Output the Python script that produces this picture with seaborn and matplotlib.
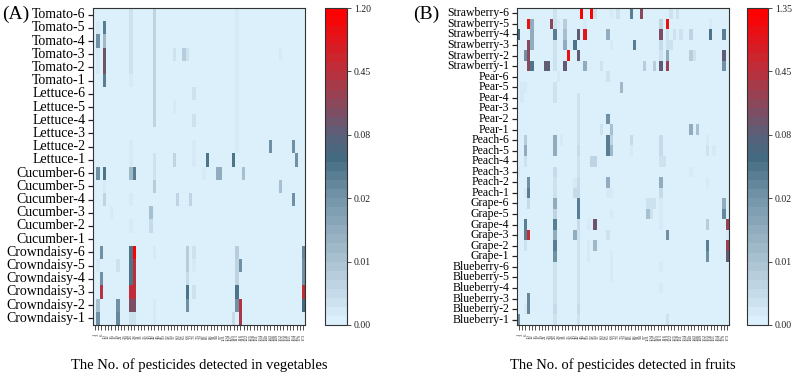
import numpy as np
import pandas as pd
import matplotlib
matplotlib.use("Agg")
import matplotlib.pyplot as plt
from matplotlib.colors import LinearSegmentedColormap
import seaborn as sns

# ─────────────────────────────────────────────
# DATOS
# ─────────────────────────────────────────────
# pesticide numbers on the x axis (64 columns)
PESTICIDAS = [1, 3, 6, 10, 12, 15, 17, 19, 21, 23, 24, 26, 28, 31, 33, 35,
              38, 40, 42, 45, 47, 50, 52, 55, 57, 60, 62, 65, 68, 70, 73, 76,
              79, 82, 85, 88, 91, 94, 97, 101, 104, 107, 110, 113, 116, 119,
              122, 125, 128, 131, 134, 137, 140, 143, 146, 149, 152, 155, 158,
              161, 164, 167, 170, 173]

# ticks of the colour scale (mg/kg)
NIVELES_VEG = [0.00, 0.01, 0.02, 0.08, 0.45, 1.20]
NIVELES_FRU = [0.00, 0.01, 0.02, 0.08, 0.45, 1.35]

# residues per sample: {column: value}
tomato = {
    "Tomato-6": {11: 0.003, 18: 0.006, 43: 0.002},
    "Tomato-5": {1: 0.002, 3: 0.04, 11: 0.003, 18: 0.006, 43: 0.002},
    "Tomato-4": {1: 0.02, 3: 0.012, 11: 0.003, 18: 0.006, 43: 0.002},
    "Tomato-3": {1: 0.002, 3: 0.15, 11: 0.003, 18: 0.006, 24: 0.003, 27: 0.008, 28: 0.003, 43: 0.002, 56: 0.002},
    "Tomato-2": {1: 0.002, 3: 0.15, 11: 0.003, 18: 0.006, 43: 0.002},
    "Tomato-1": {3: 0.04, 11: 0.002, 18: 0.006, 43: 0.002},
}
lettuce = {
    "Lettuce-6": {18: 0.006, 30: 0.003, 43: 0.002},
    "Lettuce-5": {18: 0.006, 24: 0.002, 43: 0.002},
    "Lettuce-4": {18: 0.006, 30: 0.003, 43: 0.002},
    "Lettuce-3": {43: 0.002},
    "Lettuce-2": {11: 0.002, 30: 0.002, 43: 0.002, 53: 0.02, 60: 0.02},
    "Lettuce-1": {11: 0.002, 18: 0.003, 24: 0.006, 30: 0.002, 34: 0.05, 42: 0.05, 61: 0.025},
}
cucumber = {
    "Cucumber-6": {1: 0.025, 3: 0.05, 11: 0.012, 12: 0.04, 18: 0.003, 33: 0.002, 37: 0.015, 38: 0.015, 45: 0.01},
    "Cucumber-5": {3: 0.002, 18: 0.008, 56: 0.01},
    "Cucumber-4": {3: 0.006, 11: 0.002, 25: 0.006, 29: 0.006, 60: 0.025},
    "Cucumber-3": {5: 0.002, 17: 0.01},
    "Cucumber-2": {11: 0.002, 17: 0.005},
    "Cucumber-1": {},
}
crowndaisy = {
    "Crowndaisy-6": {2: 0.02, 11: 0.05, 12: 1.2, 18: 0.002, 28: 0.008, 30: 0.004, 43: 0.008, 63: 0.03},
    "Crowndaisy-5": {1: 0.002, 7: 0.004, 11: 0.05, 12: 0.5, 28: 0.008, 30: 0.002, 43: 0.006, 44: 0.02, 63: 0.025},
    "Crowndaisy-4": {2: 0.025, 11: 0.05, 12: 0.5, 28: 0.005, 43: 0.006, 63: 0.02},
    "Crowndaisy-3": {2: 0.4, 11: 0.5, 12: 0.5, 28: 0.05, 30: 0.004, 43: 0.05, 63: 0.5},
    "Crowndaisy-2": {1: 0.01, 7: 0.02, 11: 0.2, 12: 0.2, 18: 0.002, 28: 0.02, 43: 0.02, 44: 0.4, 63: 0.06},
    "Crowndaisy-1": {1: 0.025, 7: 0.03, 11: 0.004, 12: 0.004, 18: 0.002, 42: 0.005, 44: 0.35},
}

strawberry = {
    "Strawberry-6": {11: 0.004, 19: 1.3, 22: 1.3, 23: 0.004, 28: 0.002, 30: 0.003, 34: 0.04, 37: 0.25, 46: 0.004, 48: 0.003},
    "Strawberry-5": {3: 1.0, 4: 0.015, 10: 0.25, 11: 0.004, 12: 0.002, 14: 0.008, 20: 0.002, 43: 0.006, 45: 1.0, 58: 0.002},
    "Strawberry-4": {0: 0.06, 4: 0.015, 11: 0.04, 14: 0.01, 18: 0.08, 20: 0.9, 27: 0.015, 43: 0.2, 45: 0.003,
                     47: 0.004, 49: 0.003, 52: 0.006, 58: 0.05, 62: 0.04},
    "Strawberry-3": {3: 0.25, 4: 0.015, 11: 0.003, 14: 0.015, 17: 0.05, 28: 0.002, 35: 0.04, 43: 0.005, 45: 0.003, 46: 0.003},
    "Strawberry-2": {2: 0.025, 3: 0.25, 11: 0.003, 15: 1.0, 18: 0.08, 43: 0.003, 45: 0.015, 52: 0.008, 53: 0.003, 62: 0.1},
    "Strawberry-1": {3: 0.25, 4: 0.05, 8: 0.08, 9: 0.08, 11: 0.004, 14: 0.1, 20: 0.015, 25: 0.004, 38: 0.008,
                     41: 0.008, 43: 0.1, 45: 0.3, 62: 0.02},
}
pear = {
    "Pear-6": {12: 0.002, 27: 0.003},
    "Pear-5": {1: 0.002, 2: 0.002, 11: 0.003, 31: 0.012},
    "Pear-4": {1: 0.002, 11: 0.003, 18: 0.003},
    "Pear-3": {18: 0.003},
    "Pear-2": {18: 0.003, 27: 0.02},
    "Pear-1": {18: 0.003, 25: 0.003, 28: 0.01, 52: 0.015, 54: 0.01},
}
peach = {
    "Peach-6": {2: 0.008, 11: 0.015, 13: 0.002, 18: 0.003, 27: 0.04, 28: 0.006, 34: 0.005, 43: 0.005, 57: 0.002},
    "Peach-5": {2: 0.015, 11: 0.015, 18: 0.005, 27: 0.04, 28: 0.012, 34: 0.002, 43: 0.005, 57: 0.003, 59: 0.002},
    "Peach-4": {2: 0.003, 18: 0.003, 22: 0.006, 23: 0.006, 43: 0.003, 44: 0.003},
    "Peach-3": {0: 0.002, 11: 0.005, 18: 0.003, 52: 0.002},
    "Peach-2": {3: 0.025, 11: 0.003, 17: 0.002, 18: 0.005, 27: 0.015, 43: 0.015, 57: 0.002},
    "Peach-1": {2: 0.002, 3: 0.04, 11: 0.003, 17: 0.005, 18: 0.005, 27: 0.002, 28: 0.002, 43: 0.005},
}
grape = {
    "Grape-6": {3: 0.005, 11: 0.015, 18: 0.04, 39: 0.004, 40: 0.004, 41: 0.004, 43: 0.002, 62: 0.015},
    "Grape-5": {11: 0.006, 18: 0.04, 28: 0.002, 39: 0.01, 40: 0.003, 43: 0.002, 62: 0.035},
    "Grape-4": {2: 0.04, 11: 0.04, 18: 0.005, 21: 0.002, 23: 0.15, 43: 0.002, 57: 0.008, 63: 0.3},
    "Grape-3": {2: 0.04, 3: 0.5, 11: 0.015, 17: 0.015, 18: 0.003, 27: 0.003, 45: 0.02, 63: 0.002},
    "Grape-2": {2: 0.003, 11: 0.04, 18: 0.003, 21: 0.002, 23: 0.012, 57: 0.04, 63: 0.3},
    "Grape-1": {11: 0.025, 18: 0.003, 21: 0.002, 28: 0.002, 57: 0.025, 63: 0.1},
}
blueberry = {
    "Blueberry-6": {11: 0.003, 18: 0.003, 28: 0.002, 43: 0.002},
    "Blueberry-5": {11: 0.003, 18: 0.003, 28: 0.002},
    "Blueberry-4": {11: 0.003, 18: 0.003, 43: 0.002},
    "Blueberry-3": {3: 0.035, 11: 0.003, 18: 0.003},
    "Blueberry-2": {2: 0.002, 3: 0.035, 11: 0.005, 18: 0.005},
    "Blueberry-1": {0: 0.025, 11: 0.003, 18: 0.004, 45: 0.004},
}


def construir_matriz(grupos):
    filas = {}
    for g in grupos:
        for muestra, valores in g.items():
            fila = np.zeros(len(PESTICIDAS))
            for c, v in valores.items():
                fila[c] = v
            filas[muestra] = fila
    return pd.DataFrame.from_dict(filas, orient="index", columns=PESTICIDAS)


df_veg = construir_matriz([tomato, lettuce, cucumber, crowndaisy])
df_fru = construir_matriz([strawberry, pear, peach, grape, blueberry])

# ─────────────────────────────────────────────
# ESTILO
# ─────────────────────────────────────────────
sns.set_style("white")
plt.rcParams["font.family"] = ["Liberation Serif", "DejaVu Serif"]
plt.rcParams["text.color"] = "black"
plt.rcParams["axes.labelcolor"] = "black"
plt.rcParams["xtick.color"] = "#333333"
plt.rcParams["ytick.color"] = "#222222"

cmap = LinearSegmentedColormap.from_list(
    "residuos",
    [(0.0, "#dcf0fc"), (0.2, "#a9c1d0"), (0.4, "#7394a9"), (0.53, "#436a80"),
     (0.6, "#58607a"), (0.8, "#b8323f"), (1.0, "#ff0000")],
    N=35,
)

fig = plt.figure(figsize=(7.95, 3.73), dpi=100)
H = 317 / 373
B = 1 - 325 / 373
ax_veg = fig.add_axes([93 / 795, B, 212 / 795, H])
cax_veg = fig.add_axes([325 / 795, B, 22 / 795, H])
ax_fru = fig.add_axes([517 / 795, B, 212 / 795, H])
cax_fru = fig.add_axes([747 / 795, B, 21 / 795, H])


def dibujar(df, niveles, ax, cax, xlabel, ysize):
    # escala no lineal: cada tramo de la barra de color ocupa lo mismo
    datos = df.apply(lambda col: np.interp(col, niveles, np.arange(len(niveles))))
    sns.heatmap(datos, ax=ax, cbar_ax=cax, cmap=cmap, vmin=0, vmax=len(niveles) - 1,
                xticklabels=PESTICIDAS, yticklabels=df.index,
                cbar_kws={"ticks": np.arange(len(niveles))})
    ax.set_xticklabels(PESTICIDAS, rotation=90, fontsize=3.4)
    ax.set_yticklabels(df.index, rotation=0, fontsize=ysize)
    ax.tick_params(axis="x", bottom=True, length=3.5, width=0.6, pad=3,
                   colors="#333333", labelcolor="#333333")
    ax.tick_params(axis="y", left=True, length=3.5, width=0.9, pad=2,
                   colors="#222222", labelcolor="black")
    for s in ax.spines.values():
        s.set_visible(True)
        s.set_color("#333333")
        s.set_linewidth(0.8)
    ax.set_xlabel(xlabel, fontsize=10.5, labelpad=12)
    cbar = ax.collections[0].colorbar
    cbar.set_ticklabels([f"{v:.2f}" for v in niveles], fontsize=7)
    cax.tick_params(right=True, length=3, width=0.6, pad=2, colors="#333333", labelcolor="#222222")
    cbar.outline.set_edgecolor("#333333")
    cbar.outline.set_linewidth(0.8)


dibujar(df_veg, NIVELES_VEG, ax_veg, cax_veg, "The No. of pesticides detected in vegetables", 10)
dibujar(df_fru, NIVELES_FRU, ax_fru, cax_fru, "The No. of pesticides detected in fruits", 8.5)

fig.text(2 / 795, 1 - 14 / 373, "(A)", fontsize=14, va="center", ha="left")
fig.text(413 / 795, 1 - 14 / 373, "(B)", fontsize=14, va="center", ha="left")

plt.savefig("out.png", dpi=100)
